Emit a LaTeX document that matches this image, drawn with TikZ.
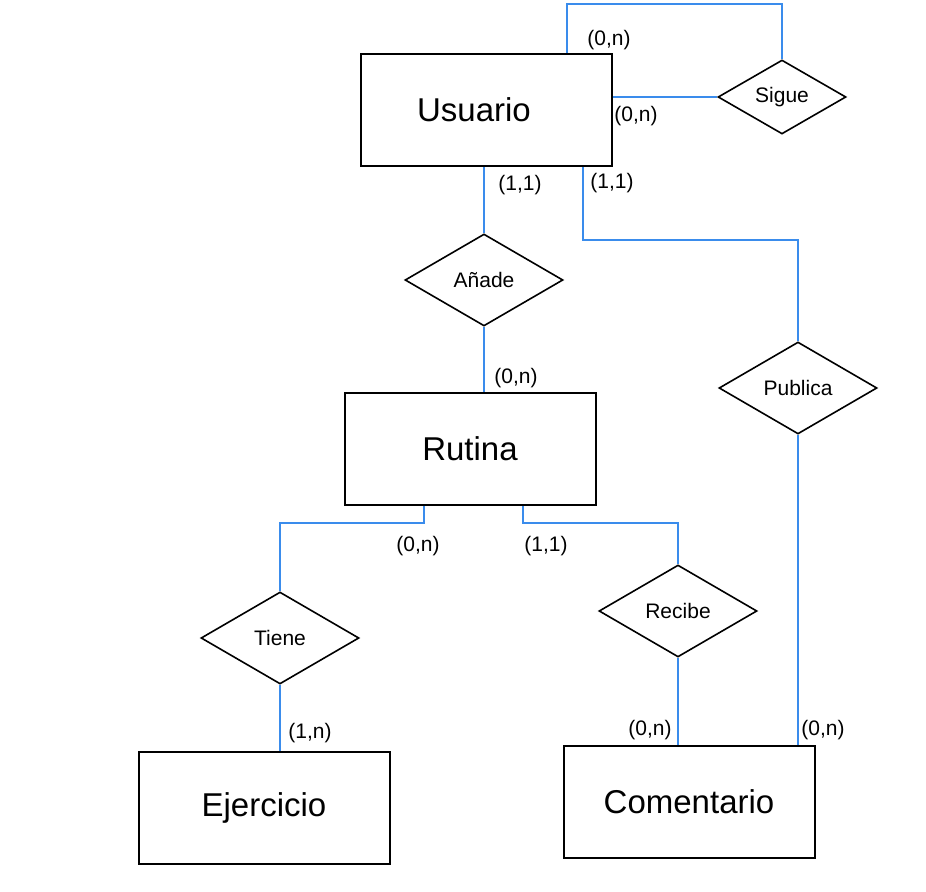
\documentclass[tikz,border=0pt]{standalone}
\usepackage{fontspec}
\setmainfont{Liberation Sans}
\usepackage{tikz}
\usetikzlibrary{positioning,shapes.geometric}

\definecolor{relblue}{RGB}{58,140,236}
\tikzset{
    entity/.style={draw=black, line width=1pt, minimum width=125.5pt, minimum height=56pt, font=\fontsize{16.5}{20}\selectfont},
    relation/.style={draw=black, diamond, line width=0.8pt, inner sep=0pt, minimum width=79pt, minimum height=46pt, font=\fontsize{10.5}{12}\selectfont},
    rel/.style={relblue, line width=1pt},
    card/.style={font=\fontsize{10.5}{12}\selectfont, inner sep=0pt}
}

\begin{document}
\begin{tikzpicture}[x=0.5pt, y=-0.5pt]
            \useasboundingbox[fill=white] (0,0) rectangle (926,892); % page
            \node[entity] (usuario) at (486,110) {Usuario\kern12pt};
            \node[entity] (rutina) at (470,449) {Rutina};
            \node[entity] (ejercicio) at (264,808) {Ejercicio};
            \node[entity] (comentario) at (689,802) {Comentario};
            \node[relation, minimum width=64pt, minimum height=37pt] (sigue) at (782,97) {Sigue};
            \node[relation] (anade) at (484,280) {Añade};
            \node[relation] (publica) at (798,388) {Publica};
            \node[relation] (tiene) at (280,638) {Tiene};
            \node[relation] (recibe) at (678,611) {Recibe};
            % Sigue (recursive)
            \draw[rel] ([xshift=40.5pt]usuario.north) -- ++(0,-49) -| (sigue.north);
            \draw[rel] (sigue.west) -- (sigue.west -| usuario.east);
            \node[card] (sigue1) at (609,40) {(0,n)};
            \node[card] (sigue2) at (636,116) {(0,n)};
            % Anade
            \draw[rel] (anade.north |- usuario.south) -- (anade.north);
            \draw[rel] (anade.south) -- (anade.south |- rutina.north);
            \node[card] (anade1) at (520,185) {(1,1)};
            \node[card] (anade2) at (516,378) {(0,n)};
            % Publica
            \draw[rel] ([xshift=48.5pt]usuario.south) -- ++(0,73) -| (publica.north);
            \draw[rel] (publica.south) -- (publica.south |- comentario.north);
            \node[card] (publica1) at (612,183) {(1,1)};
            \node[card] (publica2) at (823,730) {(0,n)};
            % Tiene
            \draw[rel] ([xshift=-23pt]rutina.south) -- ++(0,17) -| (tiene.north);
            \draw[rel] (tiene.south) -- (tiene.south |- ejercicio.north);
            \node[card] (tiene1) at (418,546) {(0,n)};
            \node[card] (tiene2) at (310,733) {(1,n)};
            % Recibe
            \draw[rel] ([xshift=26.5pt]rutina.south) -- ++(0,17) -| (recibe.north);
            \draw[rel] (recibe.south) -- (recibe.south |- comentario.north);
            \node[card] (recibe1) at (546,546) {(1,1)};
            \node[card] (recibe2) at (650,730) {(0,n)};
        \end{tikzpicture}
\end{document}
